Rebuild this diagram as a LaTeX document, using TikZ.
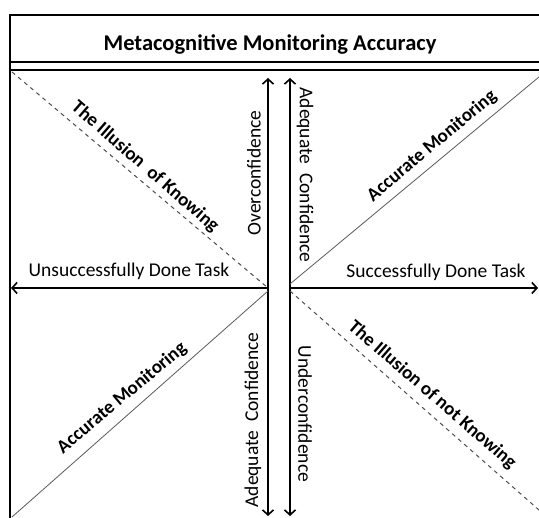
\documentclass[tikz,border=0pt]{standalone}
\usepackage{fontspec}
\setmainfont{Carlito}
\usetikzlibrary{arrows.meta}
\begin{document}
\begin{tikzpicture}[x=1pt,y=1pt,
  frame/.style={line width=1.6pt,black},
  axis/.style={line width=1.8pt,black,{Straight Barb[length=5pt,width=11pt,line width=1.6pt]}-{Straight Barb[length=5pt,width=11pt,line width=1.6pt]}},
  haxis/.style={line width=1.8pt,black,-{Straight Barb[length=5pt,width=11pt,line width=1.6pt]}},
  solidline/.style={line width=0.8pt,black!65},
  dashline/.style={line width=1pt,black!70,dash pattern=on 4pt off 4pt},
  lbl/.style={font=\fontsize{19.5}{22}\selectfont,inner sep=0pt},
  blbl/.style={font=\bfseries\fontsize{19}{22}\selectfont,inner sep=0pt},
  ttl/.style={font=\bfseries\fontsize{22.5}{25}\selectfont,inner sep=0pt}]
\useasboundingbox (0,0) rectangle (539,518);
% frame
\coordinate (tl) at (10,503);
\coordinate (tr) at (539,503);
\coordinate (bl) at (10,0);
\coordinate (m1l) at (10,456);
\coordinate (m1r) at (539,456);
\coordinate (m2l) at (10,448);
\coordinate (m2r) at (539,448);
\draw[frame] (tr) -- (tl) -- (bl);
\draw[frame] (m1l) -- (m1r);
\draw[frame] (m2l) -- (m2r);
\node[ttl] (title) at (270,473) {Metacognitive Monitoring Accuracy};
% axes
\coordinate (lt) at (268,440);
\coordinate (lb) at (268,2);
\coordinate (rt) at (290,440);
\coordinate (rb) at (290,2);
\coordinate (cl) at (268,230);
\coordinate (cr) at (290,230);
\coordinate (le) at (11,230);
\coordinate (re) at (538,230);
\draw[axis] (lb) -- (lt);
\draw[axis] (rb) -- (rt);
\draw[haxis] (cl) -- (le);
\draw[haxis] (cr) -- (re);
% diagonals
\coordinate (dtl) at (12,446);
\coordinate (dbr) at (539,8);
\coordinate (dtr) at (539,441);
\coordinate (dbl) at (12,1);
\draw[dashline] (dtl) -- (cl);
\draw[dashline] (290,227) -- (dbr);
\draw[solidline] (290,234) -- (dtr);
\draw[solidline] (268,227) -- (dbl);
% labels
\node[blbl,rotate=-41] (ik) at (145,351) {The Illusion \ of Knowing};
\node[blbl,rotate=40] (am1) at (432,372) {Accurate Monitoring};
\node[blbl,rotate=40] (am2) at (122,120) {Accurate Monitoring};
\node[blbl,rotate=-41] (ink) at (432,123) {The Illusion of not Knowing};
\node[lbl,rotate=90] (oc) at (254,345) {Overconfidence};
\node[lbl,rotate=-90] (ac1) at (305,343) {Adequate \ Confidence};
\node[lbl,rotate=90] (ac2) at (253,98) {Adequate \ Confidence};
\node[lbl,rotate=-90] (uc) at (305,104) {Underconfidence};
\node[lbl] (sdt) at (436,246) {Successfully Done Task};
\node[lbl] (udt) at (129,247) {Unsuccessfully Done Task};
\end{tikzpicture}
\end{document}
